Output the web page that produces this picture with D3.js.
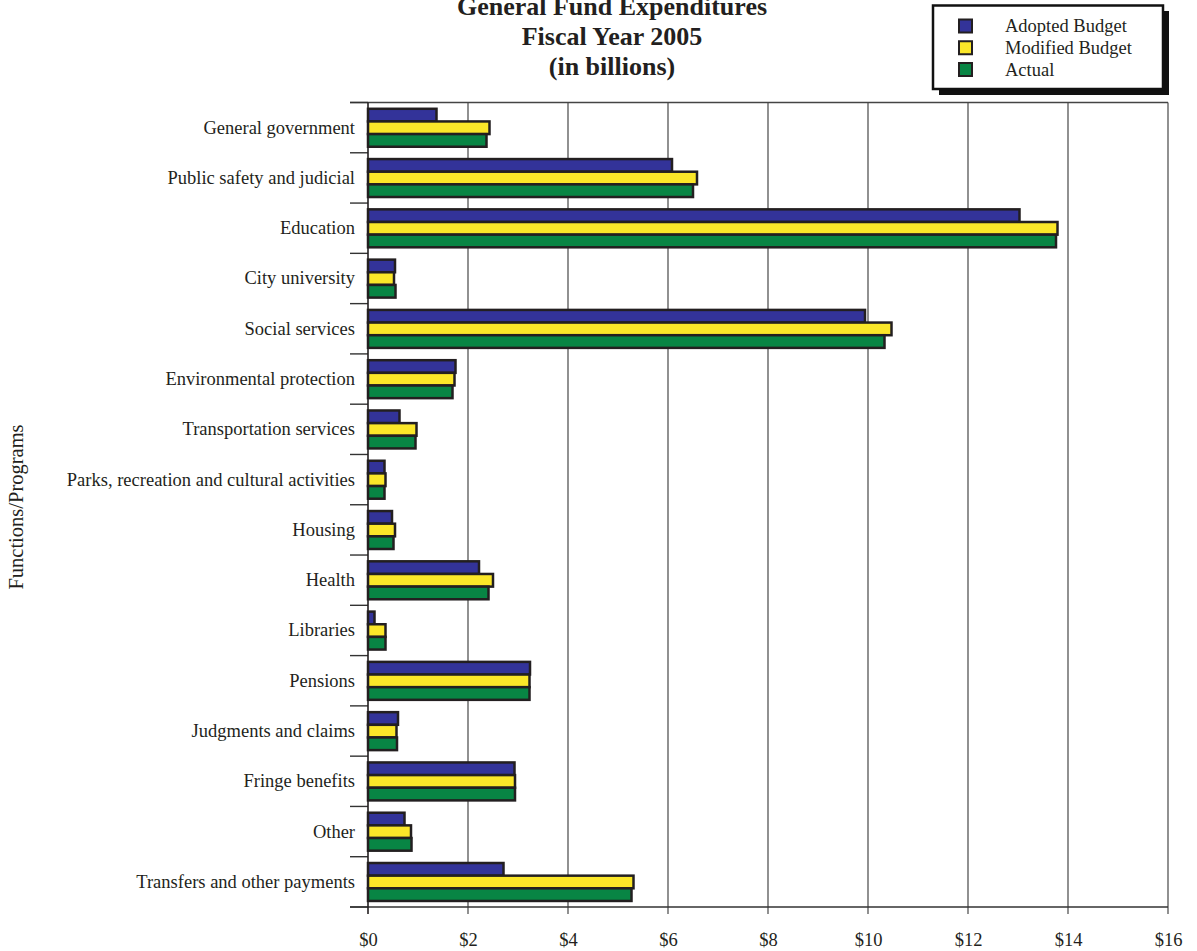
<!DOCTYPE html>
<html>
<head>
<meta charset="utf-8">
<script src="https://cdn.jsdelivr.net/npm/d3@7"></script>
<style>
  html, body { margin: 0; padding: 0; background: #fff; }
  svg { display: block; font-family: "Liberation Serif", "Times New Roman", serif; }
</style>
</head>
<body>
<svg id="chart" width="1197" height="951"></svg>
<script>
const categories = [
  "General government",
  "Public safety and judicial",
  "Education",
  "City university",
  "Social services",
  "Environmental protection",
  "Transportation services",
  "Parks, recreation and cultural activities",
  "Housing",
  "Health",
  "Libraries",
  "Pensions",
  "Judgments and claims",
  "Fringe benefits",
  "Other",
  "Transfers and other payments"
];
const seriesNames = ["Adopted Budget", "Modified Budget", "Actual"];
const adopted  = [1.37, 6.08, 13.03, 0.54, 9.94, 1.75, 0.63, 0.33, 0.48, 2.22, 0.13, 3.24, 0.60, 2.93, 0.73, 2.71];
const modified = [2.43, 6.58, 13.79, 0.52, 10.47, 1.73, 0.97, 0.35, 0.54, 2.50, 0.35, 3.23, 0.57, 2.94, 0.86, 5.31];
const actual   = [2.37, 6.50, 13.76, 0.55, 10.33, 1.69, 0.95, 0.33, 0.51, 2.41, 0.35, 3.23, 0.58, 2.94, 0.87, 5.27];
const xTicks = [0, 2, 4, 6, 8, 10, 12, 14, 16];
const titleLines = ["General Fund Expenditures", "Fiscal Year 2005", "(in billions)"];
const yAxisTitle = "Functions/Programs";
const colors = ["#333399", "#fbe729", "#088544"];
const series = [adopted, modified, actual];

const svg = d3.select("#chart");
const pLeft = 368, pRight = 1168, pTop = 102.5, pBottom = 907;

const x = d3.scaleLinear().domain([0, 16]).range([pLeft, pRight]);
const y = d3.scaleBand().domain(categories).range([pTop, pBottom]).paddingInner(0).paddingOuter(0);
const bw = y.bandwidth();
const ys = d3.scaleBand().domain(seriesNames).range([bw * 0.125, bw * 0.88]).padding(0);

// Title
svg.append("g").selectAll("text").data(titleLines).join("text")
  .attr("x", 612).attr("y", (d, i) => 15 + i * 30)
  .attr("text-anchor", "middle")
  .attr("font-size", 26).attr("font-weight", "bold").attr("fill", "#231f20")
  .text(d => d);

// Gridlines (vertical), extending below axis as ticks
svg.append("g").selectAll("line").data(xTicks.filter(d => d > 0)).join("line")
  .attr("x1", d => x(d)).attr("x2", d => x(d))
  .attr("y1", pTop).attr("y2", pBottom + 7)
  .attr("stroke", "#555").attr("stroke-width", 1.3);

// Top border & bottom axis line
svg.append("line").attr("x1", 350).attr("x2", pRight).attr("y1", pTop).attr("y2", pTop)
  .attr("stroke", "#444").attr("stroke-width", 1.3);
svg.append("line").attr("x1", 350).attr("x2", pRight).attr("y1", pBottom).attr("y2", pBottom)
  .attr("stroke", "#333").attr("stroke-width", 1.5);

// Left category boundary ticks
const bounds = categories.map(c => y(c)).concat([pBottom]);
svg.append("g").selectAll("line").data(bounds).join("line")
  .attr("x1", 350).attr("x2", pLeft)
  .attr("y1", d => d).attr("y2", d => d)
  .attr("stroke", "#333").attr("stroke-width", 1.4);

// X axis tick labels
const xAxis = d3.axisBottom(x).tickValues(xTicks).tickSize(0).tickPadding(0)
  .tickFormat(d => "$" + d);
const xg = svg.append("g").attr("transform", `translate(0,${pBottom})`).call(xAxis);
xg.select(".domain").remove();
xg.selectAll("text").attr("font-size", 18.5).attr("font-family", "Liberation Serif, serif")
  .attr("fill", "#231f20").attr("dy", null).attr("y", 39);

// Category labels
const yAxis = d3.axisLeft(y).tickSize(0).tickPadding(0);
const yg = svg.append("g").attr("transform", `translate(355,0)`).call(yAxis);
yg.select(".domain").remove();
yg.selectAll("text").attr("font-size", 18.5).attr("font-family", "Liberation Serif, serif")
  .attr("fill", "#231f20").attr("dy", "0.32em");

// Bars
const groups = svg.append("g").selectAll("g").data(categories).join("g")
  .attr("transform", c => `translate(0,${y(c)})`);
groups.selectAll("rect").data((c, i) => series.map((s, k) => ({ k, v: s[i] }))).join("rect")
  .attr("x", x(0))
  .attr("y", d => ys(seriesNames[d.k]))
  .attr("width", d => x(d.v) - x(0))
  .attr("height", ys.bandwidth())
  .attr("fill", d => colors[d.k])
  .attr("stroke", "#231f20").attr("stroke-width", 2.5);

// Left axis line
svg.append("line").attr("x1", pLeft).attr("x2", pLeft).attr("y1", pTop).attr("y2", pBottom + 7)
  .attr("stroke", "#231f20").attr("stroke-width", 1.6);

// Y axis title
svg.append("text")
  .attr("transform", "translate(23,507) rotate(-90)")
  .attr("text-anchor", "middle").attr("font-size", 20.5).attr("fill", "#231f20")
  .text(yAxisTitle);

// Legend
const lg = svg.append("g");
lg.append("rect").attr("x", 939).attr("y", 11).attr("width", 230).attr("height", 84).attr("fill", "#111");
lg.append("rect").attr("x", 933).attr("y", 5.5).attr("width", 230).attr("height", 83.5)
  .attr("fill", "#fff").attr("stroke", "#111").attr("stroke-width", 2.5);
const ly = d3.scalePoint().domain(seriesNames).range([26, 69.5]);
lg.selectAll("rect.sw").data(seriesNames).join("rect").attr("class", "sw")
  .attr("x", 959).attr("y", d => ly(d) - 6.5).attr("width", 13).attr("height", 13)
  .attr("fill", (d, i) => colors[i]).attr("stroke", "#231f20").attr("stroke-width", 2);
lg.selectAll("text.lt").data(seriesNames).join("text").attr("class", "lt")
  .attr("x", 1005).attr("y", d => ly(d) + 6)
  .attr("font-size", 18.5).attr("fill", "#231f20")
  .text(d => d);
</script>
</body>
</html>
